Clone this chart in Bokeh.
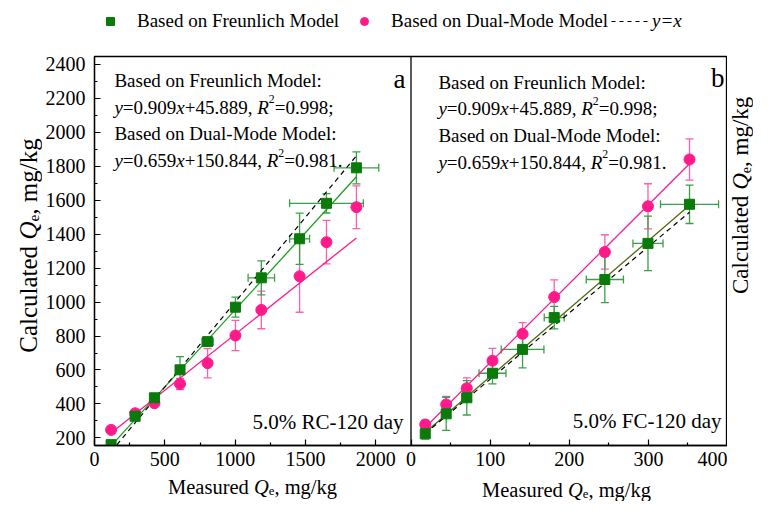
import numpy as np
from bokeh.plotting import figure
from bokeh.layouts import column, row
from bokeh.models import (ColumnDataSource, Range1d, LinearAxis, FixedTicker,
                          Whisker, TeeHead, Span, Label, Legend, LegendItem,
                          CustomJSTickFormatter)
from bokeh.embed import file_html
from bokeh.resources import INLINE

# ---------------- data ----------------
# panel a : 5.0% RC-120 day
a_measured = [118, 289, 426, 608, 804, 1002, 1186, 1458, 1649, 1862]
a_measured_err = [10, 15, 20, 12, 40, 12, 94, 71, 262, 159]
a_freundlich = [160, 327, 436, 601, 767, 970, 1143, 1373, 1582, 1791]
a_freundlich_err = [8, 12, 15, 78, 15, 59, 100, 151, 57, 94]
a_dualmode = [247, 345, 404, 518, 640, 803, 954, 1152, 1353, 1559]
a_dualmode_err = [8, 10, 15, 33, 86, 89, 111, 212, 128, 126]
fit_freundlich = [0.909, 45.889]   # slope, intercept (printed on the chart)
fit_dualmode = [0.659, 150.844]

# panel b : 5.0% FC-120 day
b_measured = [18, 44.5, 70.5, 103, 141, 181, 245, 299.5, 352]
b_measured_err = [3, 5, 6, 17, 27, 12.6, 23.5, 19, 36.7]
b_freundlich = [17.7, 47.8, 72, 109, 145, 193, 250.5, 305, 364]
b_freundlich_err = [8, 25, 26, 16, 28, 17, 35, 41, 29]
b_dualmode = [31.7, 62, 86.5, 128, 168.5, 224, 292, 361, 431.6]
b_dualmode_err = [6.5, 12, 15.6, 18.6, 17, 26, 26, 34, 31]

y_ticks = [200, 400, 600, 800, 1000, 1200, 1400, 1600, 1800, 2000, 2200, 2400]
y_minor = [300, 500, 700, 900, 1100, 1300, 1500, 1700, 1900, 2100, 2300]
a_xticks = [0, 500, 1000, 1500, 2000]
a_xminor = [250, 750, 1250, 1750]
b_xticks = [0, 100, 200, 300, 400]
b_xminor = [50, 150, 250, 350]

legend_labels = ["Based on Freunlich Model", "Based on Dual-Mode Model", "y=x"]

# ---------------- style / layout ----------------
FONT = "Liberation Serif"
GREEN = "#0a7a0a"
GREEN_ERR = "#3aa048"
GREEN_LINE_A = "#1f9e1f"
GREEN_LINE_B = "#4f6b10"
PINK = "#ff1a8c"
PINK_ERR = "#ff5fa8"

TOTAL_W, TOTAL_H = 753, 501
TOP_H = 48            # legend strip
LEFT_W = 42           # left title strip
RIGHT_W = 26          # right title strip
BL, BR, BT, BB = 50, 0, 8, 29
MAIN_W = TOTAL_W - LEFT_W - RIGHT_W
FW = MAIN_W - BL - BR
FH = 389
MAIN_H = BT + FH + BB
BOT_H = TOTAL_H - TOP_H - MAIN_H
FL, FT = LEFT_W + BL, TOP_H + BT           # frame left / top in picture pixels
FB = FT + FH

XA = (0, 4500)      # panel a uses [0, 2250], left half of the frame
XB = (-400, 400)    # panel b uses [0, 400], right half of the frame
YA = (155, 2447)
YB = (0, 587)
XMID = (XA[0] + XA[1]) / 2

p = figure(width=MAIN_W, height=MAIN_H, min_border_left=BL, min_border_right=BR,
           min_border_top=BT, min_border_bottom=BB,
           x_range=Range1d(*XA), y_range=Range1d(*YA),
           x_axis_location=None, y_axis_location=None,
           output_backend="svg", toolbar_location=None)
p.extra_x_ranges = {"b": Range1d(*XB)}
p.extra_y_ranges = {"b": Range1d(*YB)}
p.grid.visible = False
p.outline_line_color = "black"
p.outline_line_width = 1.3

def X(px):
    return XA[0] + (px - FL) / FW * (XA[1] - XA[0])

def Y(py):
    return YA[0] + (FB - py) / FH * (YA[1] - YA[0])

def aux(w, h):
    f = figure(width=w, height=h, x_range=Range1d(0, w), y_range=Range1d(0, h),
               min_border=0, x_axis_location=None, y_axis_location=None,
               output_backend="svg", toolbar_location=None)
    f.grid.visible = False
    f.outline_line_color = None
    return f

top = aux(TOTAL_W, TOP_H)
left = aux(LEFT_W, MAIN_H)
right = aux(RIGHT_W, MAIN_H)
bottom = aux(TOTAL_W, BOT_H)

# ---------------- axes ----------------
def style_axis(ax):
    ax.axis_line_width = 1.3
    ax.major_tick_in = 6
    ax.major_tick_out = 0
    ax.minor_tick_in = 3
    ax.minor_tick_out = 0
    ax.major_tick_line_width = 1.2
    ax.minor_tick_line_width = 1.2
    ax.major_label_text_font = FONT
    ax.major_label_text_font_size = "20px"
    ax.major_label_text_color = "black"

yax = LinearAxis(ticker=FixedTicker(ticks=y_ticks, minor_ticks=y_minor))
style_axis(yax)
yax.major_label_standoff = 9
p.add_layout(yax, "left")

def b_to_main(v):
    return XA[0] + (v - XB[0]) / (XB[1] - XB[0]) * (XA[1] - XA[0])

xax = LinearAxis(ticker=FixedTicker(ticks=a_xticks + [b_to_main(v) for v in b_xticks],
                                    minor_ticks=a_xminor + [b_to_main(v) for v in b_xminor]))
xax.formatter = CustomJSTickFormatter(
    args=dict(mid=XMID, a0=XA[0], a1=XA[1], b0=XB[0], b1=XB[1]),
    code="""
    if (tick < mid - 1e-6) { return tick.toFixed(0); }
    const v = b0 + (tick - a0) / (a1 - a0) * (b1 - b0);
    return v.toFixed(0);
    """)
style_axis(xax)
xax.major_label_standoff = 6
p.add_layout(xax, "below")

p.add_layout(Span(location=XMID, dimension="height", line_color="black", line_width=1.3))

# ---------------- error bars ----------------
def whisk(x, y, err, dim, color, rname="default"):
    x = np.asarray(x, float); y = np.asarray(y, float); e = np.asarray(err, float)
    if dim == "height":
        src = ColumnDataSource(dict(base=x, lo=y - e, hi=y + e))
    else:
        src = ColumnDataSource(dict(base=y, lo=x - e, hi=x + e))
    w = Whisker(source=src, base="base", lower="lo", upper="hi", dimension=dim,
                line_color=color, line_width=1.3, level="underlay",
                upper_head=TeeHead(size=8, line_color=color, line_width=1.3),
                lower_head=TeeHead(size=8, line_color=color, line_width=1.3),
                x_range_name=rname, y_range_name=rname)
    p.add_layout(w)

whisk(a_measured, a_dualmode, a_dualmode_err, "height", PINK_ERR)
whisk(a_measured, a_freundlich, a_freundlich_err, "height", GREEN_ERR)
whisk(a_measured, a_freundlich, a_measured_err, "width", GREEN_ERR)
whisk(b_measured, b_dualmode, b_dualmode_err, "height", PINK_ERR, "b")
whisk(b_measured, b_freundlich, b_freundlich_err, "height", GREEN_ERR, "b")
whisk(b_measured, b_freundlich, b_measured_err, "width", GREEN_ERR, "b")

# ---------------- lines ----------------
ax_ends = np.array([min(a_measured), max(a_measured)], float)
p.line(ax_ends, fit_freundlich[0] * ax_ends + fit_freundlich[1], line_color=GREEN_LINE_A, line_width=1.3)
p.line(ax_ends, fit_dualmode[0] * ax_ends + fit_dualmode[1], line_color=PINK, line_width=1.3)
p.line(ax_ends, ax_ends, line_color="black", line_width=1.2, line_dash="5 4")

bx_ends = np.array([min(b_measured), max(b_measured)], float)
kf = np.polyfit(b_measured, b_freundlich, 1)
kd = np.polyfit(b_measured, b_dualmode, 1)
p.line(bx_ends, np.polyval(kd, bx_ends), line_color=PINK, line_width=1.3, x_range_name="b", y_range_name="b")
p.line(bx_ends, np.polyval(kf, bx_ends), line_color=GREEN_LINE_B, line_width=1.3, x_range_name="b", y_range_name="b")
p.line(bx_ends, bx_ends, line_color="black", line_width=1.2, line_dash="5 4", x_range_name="b", y_range_name="b")

# ---------------- markers ----------------
p.scatter(a_measured, a_dualmode, marker="circle", size=11, fill_color=PINK, line_color=PINK)
p.scatter(a_measured, a_freundlich, marker="square", size=10, fill_color=GREEN, line_color=GREEN)
p.scatter(b_measured, b_dualmode, marker="circle", size=11, fill_color=PINK, line_color=PINK,
          x_range_name="b", y_range_name="b")
p.scatter(b_measured, b_freundlich, marker="square", size=10, fill_color=GREEN, line_color=GREEN,
          x_range_name="b", y_range_name="b")

# ---------------- legend (own strip above the plot) ----------------
# hidden proxy renderers that only supply the legend swatches
lg_sq = top.scatter(a_measured[:1], a_freundlich[:1], marker="square", fill_color=GREEN,
                    line_color=GREEN, visible=False)
lg_ci = top.scatter(a_measured[:1], a_dualmode[:1], marker="circle", fill_color=PINK,
                    line_color=PINK, visible=False)
lg_ln = top.line(a_measured[:2], a_measured[:2], line_color="black", line_width=1.2,
                 line_dash="4 4", visible=False)

def legend_common(lg):
    lg.orientation = "horizontal"
    lg.label_text_font = FONT
    lg.label_text_font_size = "19px"
    lg.label_text_color = "black"
    lg.label_height = 20
    lg.glyph_height = 20
    lg.padding = 0
    lg.margin = 0
    lg.border_line_color = None
    lg.background_fill_alpha = 0

leg_y = TOP_H - 32   # legend bottom edge, measured up from the strip bottom
leg1 = Legend(items=[LegendItem(label=legend_labels[0], renderers=[lg_sq]),
                     LegendItem(label=legend_labels[1], renderers=[lg_ci])],
              location=(100, leg_y))
legend_common(leg1)
leg1.glyph_width = 20
leg1.label_standoff = 17
leg1.spacing = 15
top.add_layout(leg1)

leg2 = Legend(items=[LegendItem(label=legend_labels[2], renderers=[lg_ln])],
              location=(611, leg_y))
legend_common(leg2)
leg2.glyph_width = 37
leg2.label_standoff = 4
leg2.label_text_font_style = "italic"
top.add_layout(leg2)

# ---------------- rich text ----------------
REG = {' ': 250, '%': 833, '+': 564, ',': 250, '-': 333, '.': 250, '/': 278, ':': 278,
       ';': 278, '=': 564, 'B': 667, 'C': 667, 'D': 722, 'F': 556, 'M': 889, 'R': 667,
       'Q': 722, 'a': 444, 'b': 500, 'c': 444, 'd': 500, 'e': 444, 'g': 500, 'h': 500,
       'i': 278, 'k': 500, 'l': 278, 'm': 778, 'n': 500, 'o': 500, 'r': 333, 's': 389,
       't': 278, 'u': 500, 'x': 500, 'y': 500}
ITA = {'y': 444, 'x': 444, 'R': 611, 'Q': 722, 'e': 444}

def tw(s, size, italic=False):
    tbl = ITA if italic else REG
    return sum(tbl.get(c, 500) for c in s) / 1000 * size

def rich(fig, x, y, pieces, size, align="left", angle=0.0):
    sizes, widths = [], []
    for t, st in pieces:
        s = size * 0.62 if st in ("sub", "sup") else size
        sizes.append(s)
        widths.append(tw(t, s, st == "i"))
    total = sum(widths)
    adv = {"left": 0, "center": -total / 2, "right": -total}[align]
    for (t, st), s, w in zip(pieces, sizes, widths):
        shift = -0.22 * size if st == "sub" else (0.40 * size if st == "sup" else 0)
        if angle == 0:
            xo, yo, base = adv, shift, "alphabetic"
        else:
            xo, yo, base = -shift, adv, "middle"
        fig.add_layout(Label(x=x, y=y, x_offset=xo, y_offset=yo, text=t, angle=angle,
                             text_font=FONT, text_font_size=f"{s:.2f}px",
                             text_font_style="italic" if st == "i" else "normal",
                             text_color="black", text_baseline=base, text_align="left"))
        adv += w

def eq_pieces(k, b, r2, end):
    return [("y", "i"), (f"={k}", "n"), ("x", "i"), (f"+{b}, ", "n"), ("R", "i"),
            ("2", "sup"), (f"={r2}{end}", "n")]

for x0, base in ((112, 80), (437, 81.5)):
    rich(p, X(x0), Y(base), [("Based on Freunlich Model:", "n")], 19)
    rich(p, X(x0), Y(base + 26.5), eq_pieces("0.909", "45.889", "0.998", ";"), 19)
    rich(p, X(x0), Y(base + 53), [("Based on Dual-Mode Model:", "n")], 19)
    rich(p, X(x0), Y(base + 80), eq_pieces("0.659", "150.844", "0.981", "."), 19)

def plabel(px, py, text, size, align):
    p.add_layout(Label(x=X(px), y=Y(py), text=text, text_font=FONT, text_font_size=size,
                       text_align=align, text_baseline="alphabetic", text_color="black"))

plabel(404, 78, "a", "27px", "right")
plabel(724, 77, "b", "27px", "right")
plabel(402, 421.5, "5.0% RC-120 day", "21px", "right")
plabel(721, 420, "5.0% FC-120 day", "21px", "right")

# axis titles in their own strips (picture pixel -> strip coords)
qe = lambda head: [(head, "n"), ("Q", "i"), ("e", "sub"), (", mg/kg", "n")]
MAIN_BOTTOM = TOP_H + MAIN_H
rich(bottom, 252, TOTAL_H - 486, qe("Measured "), 20.5, align="center")
rich(bottom, 566, TOTAL_H - 489, qe("Measured "), 20.5, align="center")
rich(left, 28, MAIN_BOTTOM - 255, qe("Calculated "), 25, align="center", angle=np.pi / 2)
rich(right, 740 - (LEFT_W + MAIN_W), MAIN_BOTTOM - 200, qe("Calculated "), 23,
     align="center", angle=np.pi / 2)

layout = column(top, row(left, p, right), bottom)
open("out.html", "w").write(file_html(layout, INLINE))
